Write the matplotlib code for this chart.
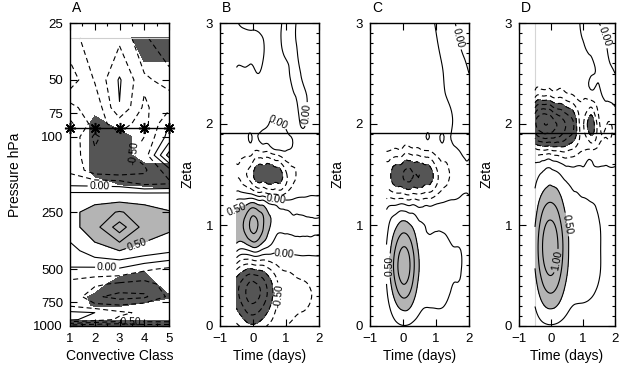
import numpy as np
import matplotlib
matplotlib.use("Agg")
import matplotlib.pyplot as plt
from matplotlib.tri import Triangulation, UniformTriRefiner
from matplotlib.ticker import FixedLocator, FixedFormatter, MultipleLocator, NullLocator

plt.rcParams['font.family'] = ['Liberation Sans', 'DejaVu Sans']

# ---------------- Panel A: composite anomaly by convective class ----------------
conv_class = [1, 2, 3, 4, 5]
pressure_hpa = [30, 50, 70, 85, 100, 125, 150, 175, 200, 250, 300, 400,
                500, 600, 700, 775, 850, 925, 1000]
a_field = [
    [-0.60, -0.35, -0.30, -0.70, -1.00],
    [-0.90, -0.48,  0.03, -0.45, -0.60],
    [-0.40, -0.70, -0.01, -0.55, -0.30],
    [-0.20, -0.60, -0.40, -0.60,  0.00],
    [-0.30, -0.80, -0.55, -0.50,  0.10],
    [-0.35, -0.70, -0.60, -0.40,  0.60],
    [-0.30, -0.65, -0.70, -0.55, -0.10],
    [-0.10, -0.12, -0.15, -0.35, -0.30],
    [ 0.30,  0.30,  0.30,  0.30,  0.30],
    [ 0.40,  0.65,  0.77,  0.65,  0.52],
    [ 0.40,  0.65,  1.135, 0.65,  0.55],
    [ 0.15,  0.40,  0.50,  0.40,  0.30],
    [-0.02, -0.05, -0.03, -0.20, -0.30],
    [-0.35, -0.45, -0.55, -0.60, -0.40],
    [-0.30, -0.70, -0.85, -0.80, -0.45],
    [-0.30, -0.45, -0.50, -0.40, -0.35],
    [ 0.05,  0.00, -0.20, -0.30, -0.30],
    [ 0.05, -0.10, -0.30, -0.30, -0.30],
    [-0.90, -1.00, -1.00, -0.90, -0.90],
]
# significance of the negative anomaly (-1 = significant)
a_signif = [
    [0, 0, 0, -1, -1],
    [0, 0, 0, 0, 0],
    [0, 0, 0, 0, 0],
    [1.5, -1, 0, 0, 0],
    [1.5, -1, -1, 0, 0],
    [1.5, -1, -1, 0, 0],
    [1.5, -1, -1, -1, -1],
    [0, 0, -0.6, -0.7, -1],
    [0, 0, 0, 0, 0],
    [0, 0, 0, 0, 0],
    [0, 0, 0, 0, 0],
    [0, 0, 0, 0, 0],
    [0, 0, 0, -0.4, 0],
    [0, 0, -1, -1, 0],
    [0, -0.7, -1, -1, -0.6],
    [0, -0.6, -0.6, -0.3, 0],
    [0, 0, 0, 0, 0],
    [-0.4, -0.4, -0.4, -0.4, -0.4],
    [-1, -1, -1, -1, -1],
]
tropopause_hpa = [90, 90, 90, 90, 90]
data_top_hpa = 30

# ---------------- Panels B-D: lag composites in zeta coordinates ----------------
time_days = [-0.5, -0.25, 0.0, 0.25, 0.5, 0.75, 1.0, 1.25, 1.5, 1.75, 2.0]
zeta = [0.0, 0.25, 0.5, 0.75, 1.0, 1.25, 1.5, 1.75, 2.0, 2.25, 2.5, 2.75, 3.0]
tropopause_zeta = 1.91

b_field = [
    [-0.45, -0.60, -0.70, -0.60, -0.45, -0.32, -0.25, -0.22, -0.20, -0.20, -0.20],
    [-0.85, -1.15, -1.30, -1.15, -0.85, -0.50, -0.35, -0.30, -0.28, -0.25, -0.22],
    [-0.70, -0.95, -1.05, -0.95, -0.70, -0.42, -0.30, -0.25, -0.22, -0.20, -0.20],
    [ 0.30,  0.20,  0.34,  0.24,  0.13,  0.04,  0.06,  0.07,  0.08,  0.08,  0.08],
    [ 0.65,  0.80,  1.09,  0.86,  0.52,  0.34,  0.31,  0.30,  0.30,  0.29,  0.28],
    [ 0.25,  0.28,  0.33,  0.22,  0.07, -0.01, -0.01,  0.02,  0.04,  0.05,  0.05],
    [-0.28, -0.45, -0.72, -0.92, -0.97, -0.88, -0.55, -0.28, -0.17, -0.13, -0.12],
    [-0.10, -0.12, -0.15, -0.15, -0.12,  0.03,  0.03, -0.06, -0.10, -0.10, -0.10],
    [-0.10, -0.10, -0.10, -0.08,  0.02,  0.03, -0.06, -0.08,  0.02, -0.08, -0.10],
    [-0.08, -0.08, -0.08, -0.08, -0.06, -0.07, -0.08, -0.03,  0.05, -0.06, -0.10],
    [-0.02, -0.02, -0.02, -0.01, -0.05, -0.08, -0.05,  0.06, -0.03, -0.08, -0.10],
    [ 0.06,  0.06,  0.06,  0.03, -0.05, -0.06,  0.05,  0.03, -0.06, -0.10, -0.10],
    [ 0.02, -0.04, -0.06, -0.06, -0.07, -0.05,  0.05,  0.02, -0.07, -0.10, -0.10],
]
c_field = [
    [ 0.07,  0.18,  0.24,  0.21,  0.16,  0.15,  0.15,  0.14,  0.12,  0.10,  0.05],
    [ 0.18,  0.49,  0.69,  0.58,  0.34,  0.28,  0.28,  0.27,  0.22,  0.21,  0.12],
    [ 0.28,  0.79,  1.11,  0.89,  0.47,  0.35,  0.33,  0.32,  0.26,  0.25,  0.14],
    [ 0.27,  0.74,  1.05,  0.85,  0.45,  0.33,  0.32,  0.31,  0.26,  0.25,  0.14],
    [ 0.15,  0.42,  0.59,  0.49,  0.29,  0.23,  0.23,  0.22,  0.18,  0.18,  0.10],
    [-0.22, -0.21, -0.19, -0.23, -0.26, -0.20, -0.12, -0.04,  0.00,  0.03,  0.02],
    [-0.70, -0.90, -1.00, -1.05, -1.00, -0.90, -0.60, -0.35, -0.20, -0.10, -0.05],
    [-0.20, -0.27, -0.30, -0.30, -0.27, -0.20, -0.12, -0.07, -0.03,  0.02,  0.04],
    [-0.10, -0.12, -0.12, -0.12, -0.10, -0.08, -0.06, -0.04,  0.00,  0.05,  0.06],
    [-0.07, -0.08, -0.08, -0.08, -0.07, -0.06, -0.05, -0.02,  0.04,  0.08,  0.06],
    [-0.06, -0.06, -0.06, -0.06, -0.05, -0.05, -0.04,  0.01,  0.08,  0.08,  0.00],
    [-0.06, -0.06, -0.06, -0.06, -0.05, -0.04, -0.02,  0.06,  0.08,  0.00, -0.06],
    [-0.06, -0.06, -0.06, -0.06, -0.05, -0.03,  0.01,  0.08,  0.03, -0.05, -0.08],
]
d_field = [
    [ 0.12,  0.20,  0.23,  0.20,  0.15,  0.12,  0.12,  0.10,  0.08,  0.05,  0.03],
    [ 0.29,  0.54,  0.63,  0.53,  0.35,  0.27,  0.26,  0.24,  0.19,  0.11,  0.05],
    [ 0.46,  0.85,  1.00,  0.81,  0.50,  0.37,  0.33,  0.30,  0.26,  0.15,  0.07],
    [ 0.55,  1.02,  1.19,  0.95,  0.56,  0.38,  0.33,  0.30,  0.27,  0.15,  0.07],
    [ 0.49,  0.91,  1.06,  0.85,  0.51,  0.36,  0.32,  0.28,  0.26,  0.14,  0.06],
    [ 0.32,  0.61,  0.71,  0.59,  0.37,  0.28,  0.26,  0.24,  0.21,  0.12,  0.05],
    [ 0.16,  0.29,  0.35,  0.27,  0.16,  0.12,  0.10,  0.09,  0.08,  0.05,  0.02],
    [-0.45, -0.55, -0.55, -0.60, -0.58, -0.45, -0.27, -0.26, -0.20, -0.15, -0.10],
    [-1.43, -1.72, -1.66, -1.45, -1.20, -0.90, -0.46, -0.90, -0.30, -0.25, -0.15],
    [-0.55, -0.65, -0.62, -0.55, -0.42, -0.30, -0.23, -0.20, -0.10,  0.03,  0.05],
    [-0.08, -0.10, -0.10, -0.10, -0.08, -0.06, -0.05, -0.02,  0.05,  0.08,  0.00],
    [-0.05, -0.06, -0.06, -0.05, -0.04, -0.03, -0.01,  0.05,  0.08,  0.00, -0.06],
    [-0.04, -0.04, -0.04, -0.04, -0.03, -0.02,  0.02,  0.08,  0.00, -0.06, -0.08],
]

# contour label anchors (data coordinates) per panel
a_labels = {0.0: [(2.2, 180), (2.5, 490)], 0.5: [(3.7, 365)], -0.5: [(3.2, 112), (3.4, 960)]}
b_labels = {0.0: [(0.75, 1.33), (0.95, 0.7), (0.75, 2.0), (1.55, 2.1)], 0.5: [(-0.42, 1.05)],
            -0.5: [(0.7, 0.3)]}
c_labels = {0.5: [(-0.43, 0.6)], 0.0: [(1.65, 2.85)]}
d_labels = {0.5: [(0.42, 1.0)], 1.0: [(0.1, 0.65)], 0.0: [(1.55, 2.85)]}

LIGHT = '#b4b4b4'
DARK = '#555555'
LEVELS = [-1.75, -1.5, -1.25, -1.0, -0.75, -0.5, -0.25,
          0.0, 0.25, 0.5, 0.75, 1.0, 1.25, 1.5]
DASH = (0, (4.5, 3.0))
LW = 0.8
LABEL_FS = 7.5


def style_axes(ax):
    ax.tick_params(which='both', direction='in', top=True, right=True,
                   labelsize=9.5, width=0.8)
    ax.tick_params(which='major', length=5, pad=5)
    ax.tick_params(which='minor', length=2.5)
    for s in ax.spines.values():
        s.set_linewidth(1.0)


def draw_lines(contour_fn, values):
    """One contour set per level: solid for >= 0, dashed for < 0."""
    sets = {}
    vmin, vmax = np.min(values), np.max(values)
    for lev in LEVELS:
        if not (vmin < lev < vmax):
            continue
        ls = 'solid' if lev >= 0 else DASH
        sets[lev] = contour_fn(levels=[lev], colors='k', linewidths=LW,
                               linestyles=[ls])
    return sets


def add_labels(ax, sets, anchors):
    for lev, pts in anchors.items():
        if lev in sets:
            ax.clabel(sets[lev], manual=pts, fmt='%.2f', fontsize=LABEL_FS,
                      inline=True, inline_spacing=2)


fig = plt.figure(figsize=(6.21, 3.72), dpi=100)
W, H = 621.0, 372.0
lefts = [70, 220, 370, 519]
widths = [99, 99, 99, 96]
axes = [fig.add_axes([l / W, 46 / H, w / W, 303 / H]) for l, w in zip(lefts, widths)]

# ---- Panel A ----
ax = axes[0]
X, P = np.meshgrid(conv_class, pressure_hpa)
fa = np.array(a_field)
sa = np.array(a_signif, dtype=float)
ax.contourf(X, P, fa, levels=[0.5, 10], colors=[LIGHT])
ax.contourf(X, P, sa, levels=[-10, -0.5], colors=[DARK])
sets_a = draw_lines(lambda **kw: ax.contour(X, P, fa, **kw), fa)
ax.set_yscale('log')
ax.set_ylim(1000, 25)
ax.set_xlim(1, 5)
ax.axhline(data_top_hpa, color='#cfcfcf', lw=0.8)
ax.plot(conv_class, tropopause_hpa, color='k', lw=1.0, marker=(8, 2, 0), ms=8,
        mew=1.1, clip_on=False, zorder=5)
add_labels(ax, sets_a, a_labels)
ax.yaxis.set_major_locator(FixedLocator([25, 50, 75, 100, 250, 500, 750, 1000]))
ax.yaxis.set_major_formatter(FixedFormatter(
    ['25', '50', '75', '100', '250', '500', '750', '1000']))
ax.yaxis.set_minor_locator(NullLocator())
ax.xaxis.set_major_locator(MultipleLocator(1))
ax.xaxis.set_minor_locator(MultipleLocator(0.5))
ax.set_xlabel('Convective Class', fontsize=10, labelpad=3)
ax.set_ylabel('Pressure hPa', fontsize=10, labelpad=8)
style_axes(ax)
ax.text(0.02, 1.025, 'A', transform=ax.transAxes, fontsize=10, va='bottom')

# ---- Panels B-D ----
T, Z = np.meshgrid(time_days, zeta)
tri = Triangulation(T.ravel(), Z.ravel())
refiner = UniformTriRefiner(tri)
for ax, field, letter, anchors in zip(axes[1:], [b_field, c_field, d_field],
                                      ['B', 'C', 'D'],
                                      [b_labels, c_labels, d_labels]):
    tri_f, val_f = refiner.refine_field(np.array(field).ravel(), subdiv=3)
    ax.tricontourf(tri_f, val_f, levels=[0.5, 10], colors=[LIGHT])
    ax.tricontourf(tri_f, val_f, levels=[-10, -0.75], colors=[DARK])
    sets = draw_lines(lambda **kw: ax.tricontour(tri_f, val_f, **kw), val_f)
    add_labels(ax, sets, anchors)
    ax.axhline(tropopause_zeta, color='k', lw=1.0)
    if letter == 'D':
        ax.axvline(time_days[0], color='#d5d5d5', lw=0.8, zorder=0)
    ax.set_xlim(-1, 2)
    ax.set_ylim(0, 3)
    ax.xaxis.set_major_locator(MultipleLocator(1))
    ax.yaxis.set_major_locator(MultipleLocator(1))
    ax.yaxis.set_minor_locator(MultipleLocator(0.1))
    ax.set_xlabel('Time (days)', fontsize=10, labelpad=3)
    ax.set_ylabel('Zeta', fontsize=10, labelpad=8)
    style_axes(ax)
    ax.text(0.02, 1.025, letter, transform=ax.transAxes, fontsize=10,
            va='bottom')

fig.savefig('out.png', dpi=100)
